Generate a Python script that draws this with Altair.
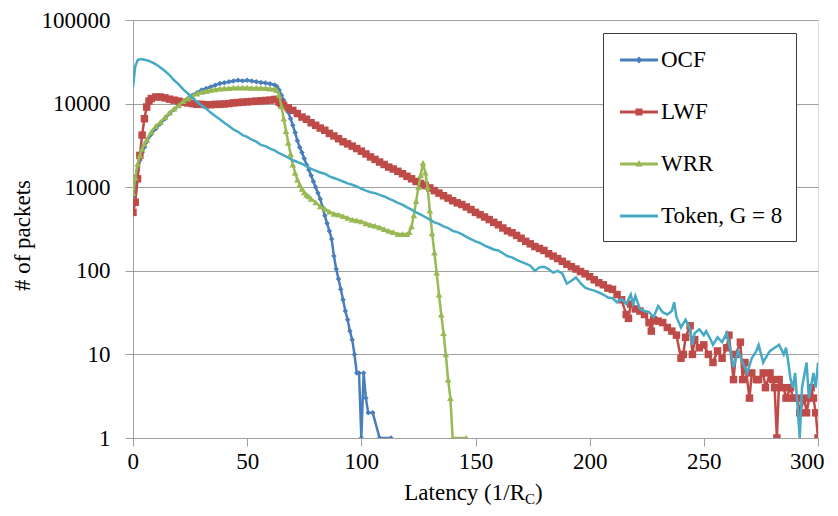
import altair as alt
import pandas as pd

# ---------------- data ----------------
series_names = ["OCF", "LWF", "WRR", "Token, G = 8"]
series_colors = ["#4A7EBB", "#BE4B48", "#98B954", "#46AAC5"]

ocf_x = [0, 1, 2, 3, 4, 5, 6, 8, 10, 12, 14, 16, 18, 20, 22, 24, 26, 28, 30, 32, 34, 36, 38,
         40, 42, 44, 46, 48, 50, 52, 54, 56, 58, 60, 62, 63, 64, 65, 66, 67, 68, 69, 70, 71,
         72, 73, 74, 75, 76, 77, 78, 79, 80, 81, 82, 83, 84, 85, 86, 87, 88, 89, 90, 91, 92,
         93, 94, 95, 96, 97, 98, 99, 100, 101, 102, 103, 105, 108, 113]
ocf_y = [780, 1120, 1600, 2100, 2600, 3000, 3500, 4300, 5000, 5750, 6600, 7600, 8500, 9500,
         10500, 11500, 12600, 13500, 14500, 15200, 15800, 16600, 17400, 17800, 18200, 18600,
         19000, 18700, 19000, 18600, 18300, 17900, 17600, 17300, 16700, 16000, 14500, 12600,
         11000, 9300, 7900, 6600, 5500, 4500, 3600, 3000, 2600, 2200, 1860, 1620, 1380, 1170,
         1000, 850, 725, 575, 457, 370, 300, 240, 150, 105, 80, 60, 45, 33, 26, 19, 15, 10, 6,
         6, 1, 6, 3, 2, 2, 1, 1]

lwf_x = [0, 1, 2, 3, 4, 5, 6, 7, 8, 10, 12, 14, 16, 18, 20, 22, 24, 26, 28, 30, 32, 34, 36, 38,
         40, 42, 44, 46, 48, 50, 52, 54, 56, 58, 60, 62, 63, 64, 65, 66, 68, 70, 72, 74, 76, 78,
         80, 82, 84, 86, 88, 90, 92, 94, 96, 98, 100, 102, 104, 106, 108, 110, 112, 114, 116,
         118, 120, 122, 124, 126, 128, 130, 132, 134, 136, 138, 140, 142, 144, 146, 148, 150,
         152, 154, 156, 158, 160, 162, 164, 166, 168, 170, 172, 174, 176, 178, 180, 182, 184,
         186, 188, 190, 192, 194, 196, 198, 200,
         202, 204, 206, 208, 210, 212, 214, 216, 217, 218, 220, 222, 224, 226, 227, 228, 230,
         232, 234, 236, 238, 240, 241, 242, 244, 245, 246, 248, 250, 252, 254, 256, 258, 260,
         261, 263, 264, 266, 267, 268, 270, 271, 273, 274, 276, 277, 279, 280, 281, 282, 283,
         285, 286, 288, 289, 291, 292, 294, 295, 297, 298, 299, 300]
lwf_y = [500, 660, 1260, 2400, 4200, 6600, 9100, 10700, 11500, 12000, 12000, 11700, 11300,
         11000, 10700, 10400, 10200, 10000, 9800, 9800, 9700, 9700, 9800, 9800, 9900, 10000,
         10200, 10300, 10400, 10500, 10600, 10700, 10800, 10900, 11000, 11200, 11200, 10400,
         9900, 9500, 8900, 8300, 7600, 6900, 6500, 5900, 5500, 5100, 4800, 4400, 4100, 3800,
         3500, 3300, 3100, 2900, 2700, 2500, 2300, 2150, 2000, 1870, 1740, 1650, 1550,
         1450, 1350, 1260, 1170, 1110, 1050, 980, 910, 850, 790, 740, 690, 650, 620, 580,
         540, 500, 470, 440, 410, 380, 355, 325, 300, 285, 265, 245, 225, 210, 195, 185,
         175, 160, 150, 140, 130, 120, 112, 105, 98, 92, 85,
         78, 72, 68, 62, 60, 52, 45, 30, 27, 40, 35, 33, 30, 24, 19, 26, 25,
         24, 21, 19, 17, 9, 10, 16, 22, 10, 15, 12, 13, 10, 8, 11, 9, 12,
         17, 5, 10, 14, 5, 8, 3, 6, 5, 5, 6, 4, 6, 5, 4, 1, 5,
         4, 3, 4, 3, 3, 2, 3, 2, 4, 3, 2, 1]

wrr_x = [0, 1, 2, 3, 4, 5, 6, 8, 10, 12, 14, 16, 18, 20, 22, 24, 26, 28, 30, 32, 34, 36, 38,
         40, 42, 44, 46, 48, 50, 52, 54, 56, 58, 60, 62, 63, 64, 65, 66, 67, 68, 69, 70, 71,
         72, 73, 74, 75, 76, 77, 78, 80, 82, 84, 86, 88, 90, 92, 94, 96, 98, 100, 102, 104,
         106, 108, 110, 112, 114, 116, 118, 120, 121, 122, 123, 124, 125, 126, 127, 128, 129,
         130, 131, 132, 133, 134, 135, 136, 137, 138, 139, 140, 146]
wrr_y = [850, 1300, 1900, 2400, 2900, 3300, 3700, 4600, 5400, 6000, 6900, 7800, 8700, 9500,
         10700, 11500, 12300, 13200, 13800, 14100, 14500, 14800, 15100, 15200, 15300, 15500,
         15500, 15500, 15500, 15400, 15400, 15400, 15300, 15100, 15000, 14500, 12600, 9300,
         6600, 4700, 3400, 2500, 1860, 1480, 1230, 1070, 955, 870, 810, 775, 725, 660, 590,
         550, 510, 480, 470, 450, 430, 410, 400, 390, 370, 355, 345, 330, 315, 300, 290, 275,
         275, 275, 290, 340, 460, 680, 1000, 1400, 1950, 1500, 1000, 525, 280, 165, 95, 52,
         30, 18, 10, 5, 3, 1, 1]

token_x = [0, 1, 2, 3, 4, 5, 6, 8, 10, 12, 14, 16, 18, 20, 22, 24, 26, 28, 30, 32, 34, 36, 38,
           40, 42, 44, 46, 48, 50, 52, 54, 56, 58, 60, 62, 64, 66, 68, 70, 72, 74, 76, 78, 80,
           82, 84, 86, 88, 90, 92, 94, 96, 98, 100, 102, 104, 106, 108, 110, 112, 114, 116,
           118, 120, 122, 124, 126, 128, 130, 132, 134, 136, 138, 140, 142, 144, 146, 148, 150,
           152, 154, 156, 158, 160, 162, 164, 166, 168, 170, 172, 174, 176, 178, 180, 182, 184,
           186, 188, 190, 192, 194, 196, 198, 200, 202, 204, 206, 208, 210, 212, 214, 216, 218,
           219, 220, 222, 224, 226, 228, 230, 232, 234, 236, 237, 238, 240, 242, 244, 245, 246,
           248, 250, 251, 253, 254, 256, 258, 260, 262, 263, 265, 267, 269, 271, 273, 274, 276,
           277, 279, 281, 283, 285, 286, 287, 288, 289, 290, 292, 293, 295, 296, 298, 299, 300]
token_y = [15800, 28000, 33000, 34000, 34000, 33500, 33000, 31600, 29500, 27000, 24500, 21900,
           19000, 17000, 14800, 13200, 11700, 10500, 9500, 8700, 7800, 7100, 6500, 5900, 5400,
           4900, 4600, 4200, 4000, 3700, 3500, 3200, 3100, 2900, 2750, 2550, 2400, 2250, 2100,
           2000, 1900, 1780, 1660, 1580, 1500, 1450, 1350, 1290, 1230, 1170, 1110, 1070, 1020,
           955, 910, 870, 850, 810, 775, 730, 690, 650, 620, 575, 540, 500, 470, 440, 410, 380,
           365, 340, 325, 300, 290, 275, 255, 240, 225, 215, 200, 190, 180, 175, 162, 150, 145,
           135, 128, 122, 115, 100, 110, 112, 105, 95, 100, 93, 70, 76, 83, 71, 63, 60, 58, 55,
           52, 48, 47, 42, 46, 40, 52, 40, 50, 35, 33, 32, 28, 38, 32, 30, 33, 42, 28, 21, 26,
           20, 13, 18, 20, 17, 19, 15, 13, 16, 14, 18, 10, 7, 11, 8, 6, 9, 11, 13, 8, 9, 11, 12,
           13, 10, 12, 8, 5, 4, 6, 1, 4, 8, 3, 6, 4, 8]

x_ticks = [0, 50, 100, 150, 200, 250, 300]
y_ticks = [1, 10, 100, 1000, 10000, 100000]

series_x = [ocf_x, lwf_x, wrr_x, token_x]
series_y = [ocf_y, lwf_y, wrr_y, token_y]
marker_shapes = ["diamond", "square", "triangle-up", None]
marker_sizes = [30, 56, 45, 0]

# legend symbols: a short line with the series marker (custom SVG paths)
line_path = "M-0.714,-0.107H2V0.107H-0.714Z"
legend_paths = [
    line_path + "M0.643,-0.25L0.893,0L0.643,0.25L0.393,0Z",
    line_path + "M0.393,-0.25H0.893V0.25H0.393Z",
    line_path + "M0.643,-0.28L0.893,0.18L0.393,0.18Z",
    line_path,
]

FONT = "'Liberation Serif', 'DejaVu Serif', serif"
GRAY = "#A0A0A0"

x_enc = alt.X(
    "latency:Q",
    scale=alt.Scale(domain=[0, 300], nice=False, zero=False),
    axis=alt.Axis(values=x_ticks, title=None, grid=False, tickSize=8, labelPadding=4,
                  labelFont=FONT, labelFontSize=23, labelColor="black",
                  domainColor=GRAY, tickColor=GRAY, labelFlush=True, labelFlushOffset=6),
)
y_enc = alt.Y(
    "packets:Q",
    scale=alt.Scale(type="log", domain=[1, 100000], nice=False),
    axis=alt.Axis(values=y_ticks, format="d", title="# of packets", grid=True,
                  gridColor=GRAY, gridWidth=1, tickSize=8, labelPadding=15,
                  labelFont=FONT, labelFontSize=23, labelColor="black",
                  domainColor=GRAY, tickColor=GRAY,
                  titleFont=FONT, titleFontSize=23, titleColor="black",
                  titleFontWeight="normal", titleAngle=-90, titleX=-111, titleY=215,
                  titleAlign="center", titleBaseline="middle"),
)

layers = []
for name, xs, ys, col, shp, sz in zip(series_names, series_x, series_y, series_colors,
                                      marker_shapes, marker_sizes):
    df = pd.DataFrame({"latency": xs, "packets": ys})
    base = alt.Chart(df)
    layers.append(base.mark_line(color=col, strokeWidth=2.5, clip=True).encode(x=x_enc, y=y_enc))
    if shp is not None:
        layers.append(base.mark_point(shape=shp, size=sz, filled=True, color=col, opacity=1,
                                      clip=True).encode(x=x_enc, y=y_enc))

# legend-only layer (points lie outside the x domain and are clipped)
legend_df = pd.DataFrame({"series": series_names, "latency": [-100] * 4, "packets": [1000] * 4})
leg = alt.Legend(
    title=None, orient="none", legendX=470, legendY=13, padding=13,
    strokeColor="#3A3A3A", fillColor="white", symbolSize=784, symbolStrokeWidth=0,
    symbolOpacity=1, labelFont=FONT, labelFontSize=23, labelColor="black",
    labelOffset=17, rowPadding=26, labelLimit=400,
    labelExpr=("datum.label == 'Token, G = 8' ? "
               "datum.label + '\u00a0\u00a0\u00a0\u00a0\u00a0\u00a0\u00a0' : datum.label"),
)
layers.append(
    alt.Chart(legend_df).mark_point(filled=True, opacity=1, clip=True).encode(
        x=x_enc, y=y_enc,
        color=alt.Color("series:N", scale=alt.Scale(domain=series_names, range=series_colors),
                        legend=leg),
        shape=alt.Shape("series:N", scale=alt.Scale(domain=series_names, range=legend_paths),
                        legend=leg),
    )
)

# x-axis title with subscript
title_parts = pd.DataFrame({"t": ["Latency (1/R", "C", ")"]})
layers.append(alt.Chart(title_parts).transform_filter("datum.t == 'Latency (1/R'").mark_text(
    font=FONT, fontSize=23, align="right", baseline="alphabetic", color="black"
).encode(text="t:N", x=alt.value(392), y=alt.value(480)))
layers.append(alt.Chart(title_parts).transform_filter("datum.t == 'C'").mark_text(
    font=FONT, fontSize=15, align="left", baseline="alphabetic", color="black"
).encode(text="t:N", x=alt.value(392), y=alt.value(484)))
layers.append(alt.Chart(title_parts).transform_filter("datum.t == ')'").mark_text(
    font=FONT, fontSize=23, align="left", baseline="alphabetic", color="black"
).encode(text="t:N", x=alt.value(402), y=alt.value(480)))

chart = alt.layer(*layers).properties(
    width=685, height=418,
    autosize=alt.AutoSizeParams(type="none"),
    padding={"left": 125, "top": 12, "right": 12, "bottom": 70},
).configure_view(stroke=None).configure(background="white")

chart.save("out.html", embed_options={"renderer": "svg", "actions": False})
